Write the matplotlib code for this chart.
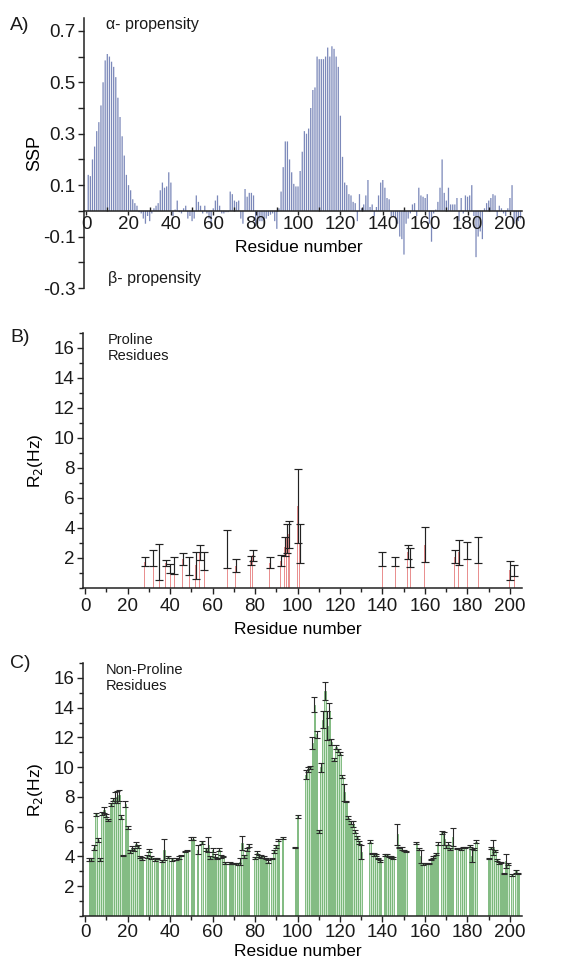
import numpy as np
import matplotlib
matplotlib.use('Agg')
from matplotlib import pyplot as plt
from matplotlib.ticker import MultipleLocator

plt.rcParams['font.family'] = ['Liberation Sans', 'DejaVu Sans']
plt.rcParams['axes.unicode_minus'] = False

# --- panel A: secondary structure propensity, residues 1..205
ssp = [0.14, 0.135, 0.2, 0.25, 0.31, 0.345, 0.41, 0.50, 0.585, 0.61,
       0.60, 0.58, 0.56, 0.52, 0.44, 0.365, 0.29, 0.215, 0.14, 0.10,
       0.08, 0.045, 0.03, 0.02, -0.005, -0.01, -0.03, -0.05, -0.02, -0.04,
       -0.01, 0.01, 0.02, 0.03, 0.08, 0.11, 0.09, 0.095, 0.15, 0.11,
       -0.02, 0.005, 0.04, -0.005, -0.01, 0.01, 0.02, -0.03, -0.02, -0.04,
       -0.03, 0.06, 0.035, 0.02, -0.01, 0.02, -0.01, -0.03, -0.06, 0.01,
       0.04, 0.06, 0.02, -0.01, -0.01, -0.005, -0.005, 0.075, 0.065, 0.04,
       0.035, 0.04, -0.03, -0.05, 0.085, 0.055, 0.07, 0.07, 0.06, -0.06,
       -0.05, -0.04, -0.04, -0.035, -0.03, -0.02, -0.015, -0.01, -0.04, -0.07,
       0.01, 0.075, 0.17, 0.27, 0.27, 0.2, 0.15, 0.105, 0.095, 0.095,
       0.155, 0.23, 0.31, 0.30, 0.32, 0.40, 0.47, 0.48, 0.60, 0.59,
       0.59, 0.59, 0.60, 0.635, 0.60, 0.64, 0.63, 0.60, 0.56, 0.37,
       0.21, 0.11, 0.10, 0.065, 0.06, 0.035, 0.03, -0.04, 0.065, 0.01,
       0.025, 0.06, 0.12, 0.015, 0.025, -0.02, 0.015, 0.06, 0.11, 0.12,
       0.09, 0.05, 0.045, -0.02, -0.02, -0.03, -0.05, -0.1, -0.11, -0.17,
       -0.05, -0.03, -0.01, 0.025, 0.03, -0.02, 0.09, 0.06, 0.055, 0.05,
       0.065, -0.05, -0.12, -0.01, 0.005, 0.035, 0.09, 0.2, 0.07, 0.04,
       0.09, 0.025, 0.025, 0.025, 0.05, -0.04, 0.05, -0.01, 0.06, 0.055,
       0.06, 0.1, -0.02, -0.18, -0.1, -0.08, -0.11, 0.01, 0.03, 0.04,
       0.05, 0.065, 0.06, -0.02, 0.02, 0.01, -0.01, -0.02, 0.01, 0.05,
       0.1, -0.05, -0.04, -0.04, -0.03]
ssp_res = np.arange(1, len(ssp) + 1)

# --- panel B: proline R2
pro_res = [28, 32, 35, 38, 40, 42, 46, 49, 52, 54, 56, 67, 71, 78, 79, 87,
           92, 94, 95, 96, 100, 101, 140, 146, 152, 153, 160, 174, 176, 180,
           185, 200, 202]
pro_r2 = [1.74, 2.0, 1.75, 1.67, 1.28, 1.5, 1.92, 1.48, 1.51, 2.39, 1.8,
          2.61, 1.5, 1.86, 2.19, 1.7, 1.82, 2.76, 3.31, 3.58, 5.47, 2.97,
          1.95, 1.77, 2.41, 2.03, 2.88, 2.09, 2.37, 2.5, 2.53, 1.19, 1.19]
pro_err = [0.30, 0.51, 1.19, 0.22, 0.30, 0.54, 0.41, 0.59, 0.89, 0.5, 0.58,
           1.28, 0.46, 0.3, 0.37, 0.39, 0.38, 0.64, 0.98, 0.91, 2.47, 1.3,
           0.46, 0.28, 0.48, 0.63, 1.17, 0.42, 0.81, 0.57, 0.86, 0.63, 0.37]

# --- panel C: non-proline R2
npro_res = [2, 3, 4, 5, 6, 7, 8, 9, 10, 11, 12, 13, 14, 15, 16, 17, 18, 19,
            20, 21, 22, 23, 24, 25, 26, 27, 29, 30, 31, 33, 34, 36, 37, 39,
            41, 43, 44, 45, 47, 48, 50, 51, 53, 55, 57, 58, 59, 60, 61, 62,
            63, 64, 65, 66, 68, 69, 70, 72, 73, 74, 75, 76, 77, 80, 81, 82,
            83, 84, 85, 86, 88, 89, 90, 91, 93, 99, 100, 104, 105, 106, 107,
            108, 109, 110, 111, 112, 113, 114, 115, 116, 117, 118, 119, 120,
            121, 122, 123, 124, 125, 126, 127, 128, 129, 130, 134, 135, 136,
            137, 138, 139, 141, 142, 143, 144, 145, 147, 148, 149, 150, 151,
            156, 157, 158, 159, 161, 162, 163, 164, 165, 166, 168, 169, 170,
            171, 172, 173, 175, 177, 178, 179, 181, 182, 183, 184, 190, 191,
            192, 193, 194, 195, 196, 197, 198, 199, 201, 203, 204]
npro_r2 = [3.8, 3.8, 4.6, 6.85, 5.1, 3.8, 6.9, 7.1, 6.75, 6.45, 7.5, 7.8,
           7.95, 8.0, 8.1, 6.65, 4.05, 7.55, 5.95, 4.35, 4.55, 4.5, 4.85, 4.7,
           3.95, 3.85, 4.0, 4.4, 3.95, 3.8, 3.85, 3.7, 4.45, 3.95, 3.8, 3.85,
           3.9, 4.05, 4.35, 4.4, 5.2, 5.2, 4.45, 4.95, 4.5, 4.8, 3.95, 4.45,
           4.05, 3.85, 4.45, 4.0, 4.0, 3.55, 3.55, 3.5, 3.5, 3.5, 3.65, 4.9,
           4.0, 4.45, 4.75, 3.9, 4.25, 4.05, 4.0, 3.95, 3.85, 3.65, 3.85,
           4.35, 4.7, 5.1, 5.25, 4.6, 6.7, 9.5, 9.85, 10.0, 11.6, 14.2, 12.2,
           5.7, 10.0, 13.2, 15.1, 12.8, 13.8, 11.7, 10.5, 11.35, 11.15, 10.9,
           9.35, 8.3, 7.7, 6.6, 6.3, 6.2, 5.65, 5.3, 4.95, 4.3, 5.0, 4.2,
           4.1, 4.1, 3.85, 3.7, 4.1, 4.1, 4.0, 3.95, 3.9, 5.5, 4.6, 4.55, 4.4,
           4.35, 4.9, 4.5, 4.0, 3.5, 3.5, 3.5, 3.8, 3.95, 4.15, 4.85, 5.6,
           5.2, 4.7, 4.85, 4.5, 5.3, 4.55, 4.5, 4.6, 4.6, 4.7, 4.05, 4.5, 5.0,
           3.85, 4.55, 4.6, 4.35, 3.75, 3.55, 3.6, 2.85, 3.7, 3.5, 2.75, 3.0,
           2.85]
npro_err = [0.1, 0.1, 0.15, 0.1, 0.15, 0.08, 0.12, 0.2, 0.1, 0.1, 0.12, 0.1,
            0.35, 0.4, 0.4, 0.15, 0.05, 0.2, 0.1, 0.1, 0.12, 0.1, 0.12, 0.1,
            0.08, 0.1, 0.1, 0.12, 0.1, 0.08, 0.05, 0.05, 0.7, 0.08, 0.08, 0.08,
            0.1, 0.05, 0.05, 0.05, 0.1, 0.08, 0.3, 0.1, 0.1, 0.5, 0.1, 0.15,
            0.1, 0.05, 0.1, 0.1, 0.05, 0.05, 0.05, 0.03, 0.03, 0.05, 0.25,
            0.45, 0.1, 0.1, 0.1, 0.05, 0.1, 0.08, 0.08, 0.05, 0.05, 0.08, 0.05,
            0.1, 0.1, 0.05, 0.05, 0.03, 0.12, 0.3, 0.15, 0.1, 0.4, 0.5, 0.25,
            0.1, 0.3, 0.55, 0.6, 0.95, 0.5, 0.2, 0.1, 0.15, 0.1, 0.1, 0.1,
            0.6, 0.05, 0.1, 0.1, 0.2, 0.1, 0.1, 0.1, 0.5, 0.08, 0.05, 0.1,
            0.05, 0.05, 0.05, 0.05, 0.05, 0.05, 0.05, 0.05, 0.7, 0.05, 0.1,
            0.05, 0.05, 0.05, 0.05, 0.45, 0.05, 0.03, 0.03, 0.05, 0.05, 0.05,
            0.1, 0.1, 0.45, 0.1, 0.1, 0.05, 0.6, 0.05, 0.05, 0.05, 0.05, 0.05,
            0.45, 0.05, 0.08, 0.05, 0.08, 0.5, 0.08, 0.05, 0.05, 0.05, 0.05,
            0.45, 0.05, 0.05, 0.1, 0.05]

W, H = 561.0, 959.0
TICK_FS = 13.5
LABEL_FS = 12.5


def box(left, top, right, bottom):
    return [left / W, 1 - bottom / H, (right - left) / W, (bottom - top) / H]


def style_axes(ax):
    for s in ['top', 'right']:
        ax.spines[s].set_visible(False)
    for s in ['left', 'bottom']:
        ax.spines[s].set_linewidth(1.1)
        ax.spines[s].set_color('#222222')
    ax.set_xlim(-1, 205.7)
    ax.xaxis.set_major_locator(MultipleLocator(20))
    ax.xaxis.set_minor_locator(MultipleLocator(10))
    ax.tick_params(which='both', colors='#222222', width=1.0,
                   labelsize=TICK_FS, labelcolor='#1a1a1a')
    ax.tick_params(which='major', length=4)
    ax.tick_params(which='minor', length=3)
    ax.tick_params(axis='y', which='major', pad=2)


fig = plt.figure(figsize=(5.61, 9.59), dpi=100)

# ---------------- A
axA = fig.add_axes(box(84, 18, 522, 288))
style_axes(axA)
bars = axA.bar(ssp_res, ssp, width=0.6, color='#7c89ba', linewidth=0)
for b in bars:
    b.set_snap(False)
axA.set_ylim(-0.3, 0.75)
axA.spines['bottom'].set_position(('data', 0))
axA.set_yticks([-0.3, -0.1, 0.1, 0.3, 0.5, 0.7])
axA.set_yticklabels(['-0.3', '-0.1', '0.1', '0.3', '0.5', '0.7'])
axA.set_yticks([-0.2, 0.0, 0.2, 0.4, 0.6], minor=True)
axA.tick_params(axis='y', which='minor', length=4)
axA.tick_params(axis='x', which='major', length=3, pad=1)
axA.tick_params(axis='x', which='minor', direction='in', length=3)
axA.set_xlabel('Residue number', fontsize=LABEL_FS)
axA.xaxis.set_label_coords(0.49, 0.178)
axA.set_ylabel('SSP', fontsize=LABEL_FS + 0.5)
axA.yaxis.set_label_coords(-0.094, 0.5)

# ---------------- B
axB = fig.add_axes(box(83, 333, 522, 588))
style_axes(axB)
axB.bar(pro_res, pro_r2, width=0.5, color='#e99090', linewidth=0)
axB.errorbar(pro_res, pro_r2, yerr=pro_err, fmt='none', ecolor='#222222',
             elinewidth=0.85, capsize=3, capthick=0.85)
axB.set_ylim(0, 17)
axB.set_yticks([2, 4, 6, 8, 10, 12, 14, 16])
axB.yaxis.set_minor_locator(MultipleLocator(1))
axB.set_xlabel('Residue number', fontsize=LABEL_FS)
axB.xaxis.set_label_coords(0.49, -0.135)
axB.set_ylabel(r'R$_2$(Hz)', fontsize=LABEL_FS)
axB.yaxis.set_label_coords(-0.087, 0.5)

# ---------------- C
axC = fig.add_axes(box(83, 663, 522, 916))
style_axes(axC)
axC.bar(npro_res, npro_r2, width=0.75, color='#cfe8cf', edgecolor='#72b272',
        linewidth=0.6)
axC.errorbar(npro_res, npro_r2, yerr=npro_err, fmt='none', ecolor='#2a2a2a',
             elinewidth=0.8, capsize=2.5, capthick=0.8)
axC.set_ylim(0, 17)
axC.set_yticks([2, 4, 6, 8, 10, 12, 14, 16])
axC.yaxis.set_minor_locator(MultipleLocator(1))
axC.tick_params(axis='x', which='major', pad=2)
axC.set_xlabel('Residue number', fontsize=LABEL_FS)
axC.xaxis.set_label_coords(0.49, -0.11)
axC.set_ylabel(r'R$_2$(Hz)', fontsize=LABEL_FS)
axC.yaxis.set_label_coords(-0.087, 0.5)

# ---------------- annotations
def ftext(x, y, s, **kw):
    fig.text(x / W, 1 - y / H, s, color='#1a1a1a', **kw)

ftext(10, 25, 'A)', fontsize=14, va='center')
ftext(10, 337, 'B)', fontsize=14, va='center')
ftext(10, 663, 'C)', fontsize=14, va='center')
ftext(106, 25, '\u03b1- propensity', fontsize=11.5, va='center')
ftext(108, 278, '\u03b2- propensity', fontsize=11.5, va='center')
ftext(108, 348, 'Proline\nResidues', fontsize=10.5, va='center',
      linespacing=1.1)
ftext(106, 678, 'Non-Proline\nResidues', fontsize=10.5, va='center',
      linespacing=1.1)

fig.savefig('out.png', dpi=100)
